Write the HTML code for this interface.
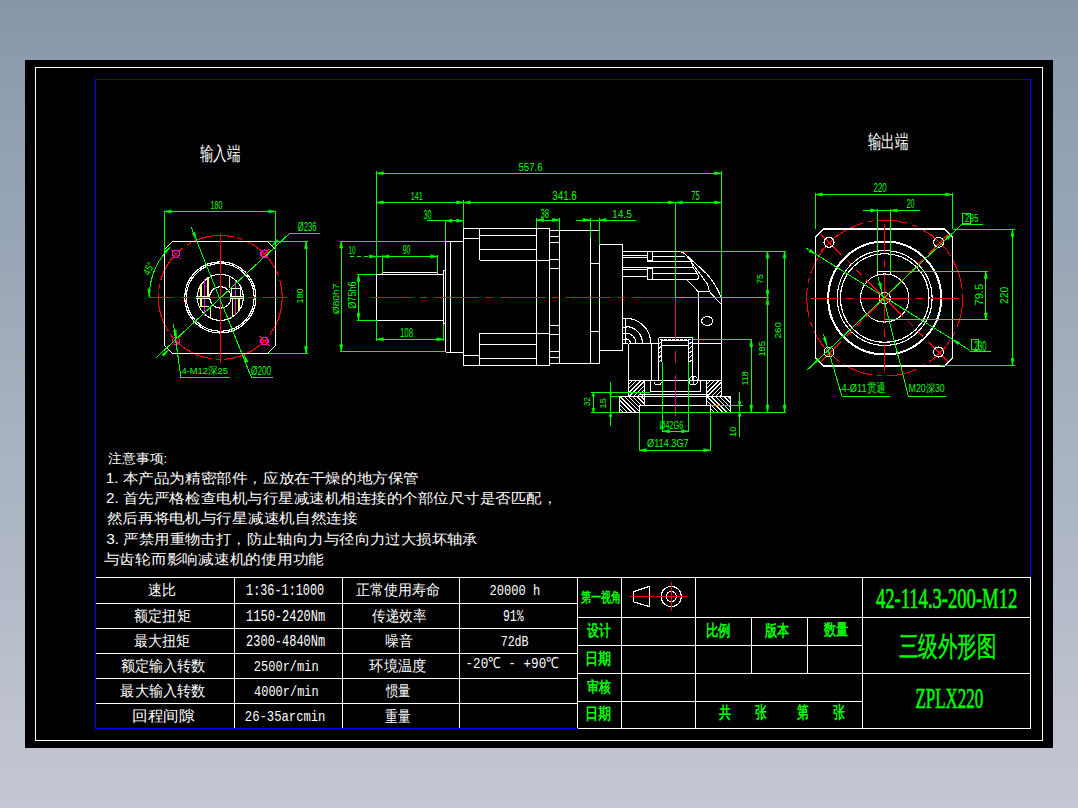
<!DOCTYPE html>
<html><head><meta charset="utf-8"><style>
html,body{margin:0;padding:0;width:1078px;height:808px;overflow:hidden;}
body{background:linear-gradient(to bottom,#8797ab 0%,#c4c8d2 100%);}
svg{position:absolute;left:0;top:0;}
</style></head><body>
<svg width="1078" height="808" viewBox="0 0 1078 808" shape-rendering="crispEdges">
<rect x="25" y="60" width="1028" height="688" fill="#000" stroke="none" stroke-width="1"/>
<rect x="35.5" y="67.5" width="1007" height="673" fill="none" stroke="#ffffff" stroke-width="1"/>
<rect x="95.5" y="79.5" width="935" height="649" fill="none" stroke="#0000ff" stroke-width="1"/>
<circle cx="220.3" cy="297.4" r="62" fill="none" stroke="#ff0000" stroke-width="1.1" stroke-dasharray="40 4 5 4"/>
<path d="M172.3,241.7 H267.6 L275.6,249.7 V345.4 L267.6,353.4 H172.3 L164.3,345.4 V249.7 Z" fill="none" stroke="#ffffff" stroke-width="1.1" />
<circle cx="220.3" cy="297.4" r="35.6" fill="none" stroke="#ffffff" stroke-width="1.2" />
<circle cx="220.3" cy="297.4" r="33.9" fill="none" stroke="#ffffff" stroke-width="1.1" />
<circle cx="220.3" cy="297.4" r="23" fill="none" stroke="#ffffff" stroke-width="1.1" />
<circle cx="220.3" cy="297.4" r="10.7" fill="none" stroke="#ffffff" stroke-width="1.1" />
<line x1="200.6" y1="283.5" x2="200.6" y2="296.0" stroke="#ffff80" stroke-width="1.8"  shape-rendering="crispEdges"/>
<line x1="200.6" y1="298.8" x2="200.6" y2="306.4" stroke="#ffff80" stroke-width="1.8"  shape-rendering="crispEdges"/>
<line x1="208.1" y1="277.0" x2="208.1" y2="296.0" stroke="#ffff80" stroke-width="2"  shape-rendering="crispEdges"/>
<line x1="210.5" y1="306.4" x2="210.5" y2="318.5" stroke="#ffff80" stroke-width="1.3"  shape-rendering="crispEdges"/>
<line x1="229.8" y1="277.0" x2="229.8" y2="288.3" stroke="#ffff80" stroke-width="1.3"  shape-rendering="crispEdges"/>
<line x1="232.4" y1="298.8" x2="232.4" y2="316.5" stroke="#ffff80" stroke-width="1.8"  shape-rendering="crispEdges"/>
<line x1="238.9" y1="298.8" x2="238.9" y2="310.0" stroke="#ffff80" stroke-width="1.8"  shape-rendering="crispEdges"/>
<line x1="204.5" y1="279.0" x2="204.5" y2="315.7" stroke="#ff00ff" stroke-width="1.3"  shape-rendering="crispEdges"/>
<line x1="235.5" y1="281.0" x2="235.5" y2="314.0" stroke="#ff00ff" stroke-width="1.3"  shape-rendering="crispEdges"/>
<line x1="196.4" y1="296.0" x2="208.9" y2="296.0" stroke="#ffffff" stroke-width="1"  shape-rendering="crispEdges"/>
<line x1="196.4" y1="298.8" x2="208.9" y2="298.8" stroke="#ffffff" stroke-width="1"  shape-rendering="crispEdges"/>
<line x1="230.6" y1="296.0" x2="243.5" y2="296.0" stroke="#ffffff" stroke-width="1"  shape-rendering="crispEdges"/>
<line x1="230.6" y1="298.8" x2="243.5" y2="298.8" stroke="#ffffff" stroke-width="1"  shape-rendering="crispEdges"/>
<rect x="231" y="288.3" width="9.00" height="7.70" fill="none" stroke="#ffffff" stroke-width="1" shape-rendering="crispEdges"/>
<line x1="198.8" y1="306.4" x2="208.5" y2="306.4" stroke="#ffff80" stroke-width="1.2"  shape-rendering="crispEdges"/>
<line x1="149.1" y1="297.4" x2="172.9" y2="297.4" stroke="#ff0000" stroke-width="1"  shape-rendering="crispEdges"/>
<line x1="180.8" y1="297.4" x2="188.8" y2="297.4" stroke="#ff0000" stroke-width="1"  shape-rendering="crispEdges"/>
<line x1="195.8" y1="297.4" x2="243.4" y2="297.4" stroke="#ff0000" stroke-width="1"  shape-rendering="crispEdges"/>
<line x1="247.8" y1="297.4" x2="256.6" y2="297.4" stroke="#ff0000" stroke-width="1"  shape-rendering="crispEdges"/>
<line x1="262.8" y1="297.4" x2="286.6" y2="297.4" stroke="#ff0000" stroke-width="1"  shape-rendering="crispEdges"/>
<line x1="220.3" y1="232.5" x2="220.3" y2="363.0" stroke="#ff0000" stroke-width="1"  shape-rendering="crispEdges"/>
<circle cx="176" cy="253.8" r="3.6" fill="none" stroke="#ff00ff" stroke-width="1.5" />
<line x1="181.0" y1="258.7" x2="171.0" y2="248.9" stroke="#ff0000" stroke-width="1" />
<line x1="179.5" y1="250.2" x2="172.5" y2="257.4" stroke="#ff0000" stroke-width="1" />
<circle cx="264.5" cy="253.8" r="3.6" fill="none" stroke="#ff00ff" stroke-width="1.5" />
<line x1="259.5" y1="258.7" x2="269.5" y2="248.9" stroke="#ff0000" stroke-width="1" />
<line x1="268.0" y1="257.4" x2="261.0" y2="250.2" stroke="#ff0000" stroke-width="1" />
<circle cx="176" cy="341" r="3.6" fill="none" stroke="#ff00ff" stroke-width="1.5" />
<line x1="181.0" y1="336.1" x2="171.0" y2="345.9" stroke="#ff0000" stroke-width="1" />
<line x1="172.5" y1="337.4" x2="179.5" y2="344.6" stroke="#ff0000" stroke-width="1" />
<circle cx="264.5" cy="341" r="3.6" fill="none" stroke="#ff00ff" stroke-width="1.5" />
<line x1="259.5" y1="336.1" x2="269.5" y2="345.9" stroke="#ff0000" stroke-width="1" />
<line x1="261.0" y1="344.6" x2="268.0" y2="337.4" stroke="#ff0000" stroke-width="1" />
<line x1="164.3" y1="211.4" x2="164.3" y2="251.0" stroke="#00ff00" stroke-width="1"  shape-rendering="crispEdges"/>
<line x1="275.6" y1="211.4" x2="275.6" y2="251.0" stroke="#00ff00" stroke-width="1"  shape-rendering="crispEdges"/>
<line x1="164.3" y1="211.4" x2="275.6" y2="211.4" stroke="#00ff00" stroke-width="1"  shape-rendering="crispEdges"/>
<path d="M164.3,211.4 L171.3,209.9 L171.3,212.9 Z" fill="#00ff00" stroke="#00ff00" stroke-width="0.6" shape-rendering="geometricPrecision"/>
<path d="M275.6,211.4 L268.6,209.9 L268.6,212.9 Z" fill="#00ff00" stroke="#00ff00" stroke-width="0.6" shape-rendering="geometricPrecision"/>
<text x="210.60" y="208.59" fill="#00ff00" font-size="11.41" textLength="11.85" lengthAdjust="spacingAndGlyphs" style="font-family:&quot;Liberation Sans&quot;,sans-serif;font-weight:normal">180</text>
<line x1="267.6" y1="241.7" x2="308.0" y2="241.7" stroke="#00ff00" stroke-width="1"  shape-rendering="crispEdges"/>
<line x1="267.6" y1="353.4" x2="308.0" y2="353.4" stroke="#00ff00" stroke-width="1"  shape-rendering="crispEdges"/>
<line x1="306.0" y1="241.7" x2="306.0" y2="353.4" stroke="#00ff00" stroke-width="1"  shape-rendering="crispEdges"/>
<path d="M306,241.7 L304.5,248.7 L307.5,248.7 Z" fill="#00ff00" stroke="#00ff00" stroke-width="0.6" shape-rendering="geometricPrecision"/>
<path d="M306,353.4 L304.5,346.4 L307.5,346.4 Z" fill="#00ff00" stroke="#00ff00" stroke-width="0.6" shape-rendering="geometricPrecision"/>
<text x="303.20" y="303.53" fill="#00ff00" font-size="9.86" textLength="15.06" lengthAdjust="spacingAndGlyphs" transform="rotate(-90 303.20 303.53)" style="font-family:&quot;Liberation Sans&quot;,sans-serif;font-weight:normal">180</text>
<line x1="156.0" y1="357.8" x2="290.0" y2="233.0" stroke="#00ff00" stroke-width="1" />
<line x1="290.0" y1="233.0" x2="320.0" y2="233.0" stroke="#00ff00" stroke-width="1"  shape-rendering="crispEdges"/>
<text x="297.77" y="231.34" fill="#00ff00" font-size="11.87" textLength="18.71" lengthAdjust="spacingAndGlyphs" style="font-family:&quot;Liberation Sans&quot;,sans-serif;font-weight:normal">Ø236</text>
<line x1="191.2" y1="227.3" x2="251.5" y2="377.6" stroke="#00ff00" stroke-width="1" />
<line x1="251.5" y1="377.6" x2="273.0" y2="377.6" stroke="#00ff00" stroke-width="1"  shape-rendering="crispEdges"/>
<text x="251.06" y="374.74" fill="#00ff00" font-size="12.13" textLength="19.94" lengthAdjust="spacingAndGlyphs" style="font-family:&quot;Liberation Sans&quot;,sans-serif;font-weight:normal">Ø200</text>
<line x1="173.4" y1="324.0" x2="181.0" y2="377.6" stroke="#00ff00" stroke-width="1" />
<line x1="181.0" y1="377.6" x2="229.7" y2="377.6" stroke="#00ff00" stroke-width="1"  shape-rendering="crispEdges"/>
<text x="181.51" y="374.23" fill="#00ff00" font-size="9.79" textLength="46.33" lengthAdjust="spacingAndGlyphs" style="font-family:&quot;Liberation Sans&quot;,sans-serif;font-weight:normal">4-M12深25</text>
<path d="M149.3,297.4 A71,71 0 0 1 170.1,247.2" fill="none" stroke="#00ff00" stroke-width="1" />
<text x="152" y="270" fill="#00ff00" font-size="10.5" text-anchor="middle" style="font-family:&quot;Liberation Sans&quot;,sans-serif;font-weight:normal" transform="rotate(-65 152 270)" textLength="13" lengthAdjust="spacingAndGlyphs">45°</text>
<path d="M149.1,296.7 L150.4,289.2 L147.8,289.2 Z" fill="#00ff00" stroke="#00ff00" stroke-width="0.6" shape-rendering="geometricPrecision"/>
<path d="M170.1,247.2 L163.9,251.6 L165.7,253.4 Z" fill="#00ff00" stroke="#00ff00" stroke-width="0.6" shape-rendering="geometricPrecision"/>
<path d="M196.5,240.1 L194.7,232.2 L192.3,233.2 Z" fill="#00ff00" stroke="#00ff00" stroke-width="0.6" shape-rendering="geometricPrecision"/>
<path d="M243.9,354.7 L245.7,362.6 L248.1,361.6 Z" fill="#00ff00" stroke="#00ff00" stroke-width="0.6" shape-rendering="geometricPrecision"/>
<path d="M271.9,245.8 L278.6,241.3 L276.9,239.4 Z" fill="#00ff00" stroke="#00ff00" stroke-width="0.6" shape-rendering="geometricPrecision"/>
<path d="M168.7,349.8 L162.0,354.3 L163.7,356.2 Z" fill="#00ff00" stroke="#00ff00" stroke-width="0.6" shape-rendering="geometricPrecision"/>
<path d="M176.5,338.0 L176.2,329.9 L173.6,330.4 Z" fill="#00ff00" stroke="#00ff00" stroke-width="0.6" shape-rendering="geometricPrecision"/>
<rect x="376.3" y="274.3" width="67.50" height="46.00" fill="none" stroke="#ffffff" stroke-width="1.1" shape-rendering="crispEdges"/>
<line x1="382.0" y1="272.5" x2="437.6" y2="272.5" stroke="#ffffff" stroke-width="1"  shape-rendering="crispEdges"/>
<line x1="382.0" y1="272.5" x2="382.0" y2="274.3" stroke="#ffffff" stroke-width="1"  shape-rendering="crispEdges"/>
<line x1="437.6" y1="272.5" x2="437.6" y2="274.3" stroke="#ffffff" stroke-width="1"  shape-rendering="crispEdges"/>
<rect x="443.8" y="270.2" width="1.80" height="53.30" fill="none" stroke="#ffffff" stroke-width="1" shape-rendering="crispEdges"/>
<line x1="445.6" y1="241.2" x2="445.6" y2="352.0" stroke="#ffffff" stroke-width="1"  shape-rendering="crispEdges"/>
<line x1="450.5" y1="241.2" x2="450.5" y2="352.0" stroke="#ffffff" stroke-width="1"  shape-rendering="crispEdges"/>
<line x1="445.6" y1="241.2" x2="463.3" y2="241.2" stroke="#ffffff" stroke-width="1"  shape-rendering="crispEdges"/>
<line x1="445.6" y1="352.0" x2="463.3" y2="352.0" stroke="#ffffff" stroke-width="1"  shape-rendering="crispEdges"/>
<rect x="463.3" y="228.3" width="86.30" height="137.30" fill="none" stroke="#ffffff" stroke-width="1.1" shape-rendering="crispEdges"/>
<line x1="479.5" y1="228.3" x2="479.5" y2="260.4" stroke="#ffffff" stroke-width="1"  shape-rendering="crispEdges"/>
<line x1="479.5" y1="333.2" x2="479.5" y2="365.6" stroke="#ffffff" stroke-width="1"  shape-rendering="crispEdges"/>
<line x1="463.3" y1="238.5" x2="479.5" y2="238.5" stroke="#ffffff" stroke-width="1"  shape-rendering="crispEdges"/>
<line x1="463.3" y1="355.0" x2="479.5" y2="355.0" stroke="#ffffff" stroke-width="1"  shape-rendering="crispEdges"/>
<line x1="479.5" y1="235.4" x2="536.6" y2="235.4" stroke="#ffffff" stroke-width="1"  shape-rendering="crispEdges"/>
<line x1="479.5" y1="249.3" x2="536.6" y2="249.3" stroke="#ffffff" stroke-width="1"  shape-rendering="crispEdges"/>
<line x1="479.5" y1="344.3" x2="536.6" y2="344.3" stroke="#ffffff" stroke-width="1"  shape-rendering="crispEdges"/>
<line x1="479.5" y1="358.2" x2="536.6" y2="358.2" stroke="#ffffff" stroke-width="1"  shape-rendering="crispEdges"/>
<line x1="479.5" y1="260.4" x2="549.6" y2="260.4" stroke="#ffffff" stroke-width="1"  shape-rendering="crispEdges"/>
<line x1="479.5" y1="333.2" x2="549.6" y2="333.2" stroke="#ffffff" stroke-width="1"  shape-rendering="crispEdges"/>
<line x1="536.6" y1="228.3" x2="536.6" y2="365.6" stroke="#ffffff" stroke-width="1"  shape-rendering="crispEdges"/>
<rect x="549.6" y="230.6" width="9.80" height="132.60" fill="none" stroke="#ffffff" stroke-width="1.1" shape-rendering="crispEdges"/>
<line x1="549.6" y1="236.3" x2="559.4" y2="236.3" stroke="#ffffff" stroke-width="1"  shape-rendering="crispEdges"/>
<line x1="549.6" y1="242.3" x2="559.4" y2="242.3" stroke="#ffffff" stroke-width="1"  shape-rendering="crispEdges"/>
<line x1="549.6" y1="259.5" x2="559.4" y2="259.5" stroke="#ffffff" stroke-width="1"  shape-rendering="crispEdges"/>
<line x1="549.6" y1="268.6" x2="559.4" y2="268.6" stroke="#ffffff" stroke-width="1"  shape-rendering="crispEdges"/>
<line x1="549.6" y1="325.4" x2="559.4" y2="325.4" stroke="#ffffff" stroke-width="1"  shape-rendering="crispEdges"/>
<line x1="549.6" y1="334.6" x2="559.4" y2="334.6" stroke="#ffffff" stroke-width="1"  shape-rendering="crispEdges"/>
<line x1="549.6" y1="351.3" x2="559.4" y2="351.3" stroke="#ffffff" stroke-width="1"  shape-rendering="crispEdges"/>
<line x1="549.6" y1="357.3" x2="559.4" y2="357.3" stroke="#ffffff" stroke-width="1"  shape-rendering="crispEdges"/>
<rect x="559.4" y="230.4" width="39.80" height="132.90" fill="none" stroke="#ffffff" stroke-width="1.1" shape-rendering="crispEdges"/>
<line x1="590.8" y1="230.4" x2="590.8" y2="363.3" stroke="#ffffff" stroke-width="1"  shape-rendering="crispEdges"/>
<line x1="590.8" y1="263.5" x2="599.2" y2="263.5" stroke="#ffffff" stroke-width="1"  shape-rendering="crispEdges"/>
<line x1="590.8" y1="331.4" x2="599.2" y2="331.4" stroke="#ffffff" stroke-width="1"  shape-rendering="crispEdges"/>
<rect x="599.2" y="244.5" width="23.40" height="105.60" fill="none" stroke="#ffffff" stroke-width="1.1" shape-rendering="crispEdges"/>
<line x1="622.6" y1="251.5" x2="680.7" y2="251.5" stroke="#ffffff" stroke-width="1"  shape-rendering="crispEdges"/>
<line x1="622.6" y1="255.4" x2="647.3" y2="255.4" stroke="#ffffff" stroke-width="1"  shape-rendering="crispEdges"/>
<line x1="652.8" y1="256.7" x2="685.0" y2="256.7" stroke="#ffffff" stroke-width="1"  shape-rendering="crispEdges"/>
<line x1="622.6" y1="257.3" x2="647.3" y2="257.3" stroke="#ffffff" stroke-width="1"  shape-rendering="crispEdges"/>
<line x1="647.3" y1="261.7" x2="691.3" y2="261.7" stroke="#ffffff" stroke-width="1"  shape-rendering="crispEdges"/>
<line x1="622.6" y1="267.6" x2="693.0" y2="267.6" stroke="#ffffff" stroke-width="1"  shape-rendering="crispEdges"/>
<line x1="622.6" y1="269.3" x2="647.3" y2="269.3" stroke="#ffffff" stroke-width="1"  shape-rendering="crispEdges"/>
<line x1="652.8" y1="273.4" x2="697.4" y2="273.4" stroke="#ffffff" stroke-width="1"  shape-rendering="crispEdges"/>
<line x1="622.6" y1="276.7" x2="647.3" y2="276.7" stroke="#ffffff" stroke-width="1"  shape-rendering="crispEdges"/>
<line x1="647.3" y1="279.5" x2="697.4" y2="279.5" stroke="#ffffff" stroke-width="1"  shape-rendering="crispEdges"/>
<rect x="647.3" y="251.7" width="5.50" height="8.90" fill="none" stroke="#ffffff" stroke-width="1" shape-rendering="crispEdges"/>
<rect x="647.3" y="268.4" width="5.50" height="10.60" fill="none" stroke="#ffffff" stroke-width="1" shape-rendering="crispEdges"/>
<path d="M680.7,251.5 L685,254 L706.3,273.4 Q716,284 720.8,296.8" fill="none" stroke="#ffffff" stroke-width="1.1" />
<path d="M686.2,255 L691.3,261.7 L693,267.6 L697.4,273.4 L699,276.7 L697.4,279.5" fill="none" stroke="#ffffff" stroke-width="1" />
<path d="M688,257.5 L707.4,284 L709.6,291.8 L699.6,291.8 L698.5,292.5" fill="none" stroke="#ffffff" stroke-width="1" />
<line x1="686.8" y1="280.0" x2="698.5" y2="291.8" stroke="#ffffff" stroke-width="1" />
<line x1="709.6" y1="291.8" x2="720.8" y2="304.0" stroke="#ffffff" stroke-width="1" />
<line x1="721.3" y1="296.8" x2="721.3" y2="396.2" stroke="#ffffff" stroke-width="1.1"  shape-rendering="crispEdges"/>
<line x1="698.2" y1="292.0" x2="698.2" y2="380.6" stroke="#ffffff" stroke-width="1.1"  shape-rendering="crispEdges"/>
<ellipse cx="707.2" cy="321" rx="5.6" ry="4.4" fill="none" stroke="#ffffff" stroke-width="1.1"/>
<path d="M625.9,318.4 A24.8,24.8 0 0 1 650.6999999999999,343.2" fill="none" stroke="#ffffff" stroke-width="1.1" />
<path d="M625.9,326.59999999999997 A16.6,16.6 0 0 1 642.5,343.2" fill="none" stroke="#ffffff" stroke-width="1.1" />
<path d="M625.9,333.2 A10,10 0 0 1 635.9,343.2" fill="none" stroke="#ffffff" stroke-width="1.1" />
<path d="M625.9,338.8 A4.4,4.4 0 0 1 630.3,343.2" fill="none" stroke="#ffffff" stroke-width="1.1" />
<line x1="625.4" y1="318.4" x2="625.4" y2="343.2" stroke="#ffffff" stroke-width="1"  shape-rendering="crispEdges"/>
<line x1="622.6" y1="318.4" x2="626.5" y2="318.4" stroke="#ffffff" stroke-width="1"  shape-rendering="crispEdges"/>
<line x1="622.6" y1="327.6" x2="626.5" y2="327.6" stroke="#ffffff" stroke-width="1"  shape-rendering="crispEdges"/>
<line x1="622.6" y1="333.3" x2="626.5" y2="333.3" stroke="#ffffff" stroke-width="1"  shape-rendering="crispEdges"/>
<line x1="622.6" y1="339.7" x2="626.5" y2="339.7" stroke="#ffffff" stroke-width="1"  shape-rendering="crispEdges"/>
<line x1="622.6" y1="343.5" x2="628.2" y2="343.5" stroke="#ffffff" stroke-width="1"  shape-rendering="crispEdges"/>
<line x1="628.5" y1="343.5" x2="658.5" y2="343.5" stroke="#ffffff" stroke-width="1"  shape-rendering="crispEdges"/>
<line x1="692.5" y1="343.5" x2="721.5" y2="343.5" stroke="#ffffff" stroke-width="1"  shape-rendering="crispEdges"/>
<line x1="628.5" y1="343.5" x2="628.5" y2="380.5" stroke="#ffffff" stroke-width="1"  shape-rendering="crispEdges"/>
<line x1="721.5" y1="343.5" x2="721.5" y2="380.5" stroke="#ffffff" stroke-width="1"  shape-rendering="crispEdges"/>
<line x1="628.5" y1="380.5" x2="721.5" y2="380.5" stroke="#ffffff" stroke-width="1"  shape-rendering="crispEdges"/>
<line x1="651.3" y1="343.4" x2="651.3" y2="380.6" stroke="#ffffff" stroke-width="1"  shape-rendering="crispEdges"/>
<line x1="658.5" y1="337.5" x2="658.5" y2="380.5" stroke="#ffffff" stroke-width="1"  shape-rendering="crispEdges"/>
<line x1="692.5" y1="337.5" x2="692.5" y2="380.5" stroke="#ffffff" stroke-width="1"  shape-rendering="crispEdges"/>
<line x1="658.5" y1="337.5" x2="692.5" y2="337.5" stroke="#ffffff" stroke-width="1"  shape-rendering="crispEdges"/>
<line x1="660.0" y1="339.5" x2="691.0" y2="339.5" stroke="#ffffff" stroke-width="1" stroke-dasharray="2.5 1.5"/>
<rect x="661.5" y="340.5" width="27.00" height="5.00" fill="none" stroke="#ffffff" stroke-width="1" shape-rendering="crispEdges"/>
<line x1="661.5" y1="345.5" x2="661.5" y2="362.0" stroke="#ffffff" stroke-width="1"  shape-rendering="crispEdges"/>
<line x1="688.5" y1="345.5" x2="688.5" y2="362.0" stroke="#ffffff" stroke-width="1"  shape-rendering="crispEdges"/>
<clipPath id="hw1"><rect x="658.5" y="340.5" width="3.0" height="21.5"/></clipPath>
<path d="M657.5,345.0 L662.5,341.0 M657.5,349.5 L662.5,345.5 M657.5,354.0 L662.5,350.0 M657.5,358.5 L662.5,354.5 M657.5,363.0 L662.5,359.0 M657.5,367.5 L662.5,363.5 M657.5,372.0 L662.5,368.0 M657.5,376.5 L662.5,372.5 " stroke="#fff" stroke-width="1" fill="none" clip-path="url(#hw1)"/>
<clipPath id="hw2"><rect x="688.5" y="340.5" width="4.0" height="21.5"/></clipPath>
<path d="M687.5,345.0 L693.5,341.0 M687.5,349.5 L693.5,345.5 M687.5,354.0 L693.5,350.0 M687.5,358.5 L693.5,354.5 M687.5,363.0 L693.5,359.0 M687.5,367.5 L693.5,363.5 M687.5,372.0 L693.5,368.0 M687.5,376.5 L693.5,372.5 " stroke="#fff" stroke-width="1" fill="none" clip-path="url(#hw2)"/>
<path d="M654.3,381.5 A3.5,3.5 0 0 0 661.3,381.5" fill="none" stroke="#ffffff" stroke-width="1" />
<circle cx="693.3" cy="380.7" r="4.3" fill="none" stroke="#ffffff" stroke-width="1" />
<line x1="689.0" y1="380.7" x2="697.6" y2="380.7" stroke="#ffffff" stroke-width="0.8"  shape-rendering="crispEdges"/>
<line x1="693.3" y1="376.4" x2="693.3" y2="385.0" stroke="#ffffff" stroke-width="0.8"  shape-rendering="crispEdges"/>
<polyline points="650.9,380.6 650.9,391.9 700.2,391.9 700.2,380.6" fill="none" stroke="#ffffff" stroke-width="1" />
<rect x="628.2" y="380.6" width="16.40" height="15.60" fill="none" stroke="#ffffff" stroke-width="1.1" shape-rendering="crispEdges"/>
<clipPath id="h628380"><rect x="628.2" y="380.6" width="16.399999999999977" height="15.599999999999966"/></clipPath>
<path d="M612.6,396.2 L628.2,380.6 M616.8,396.2 L632.4,380.6 M621.0,396.2 L636.6,380.6 M625.2,396.2 L640.8,380.6 M629.4,396.2 L645.0,380.6 M633.6,396.2 L649.2,380.6 M637.8,396.2 L653.4,380.6 M642.0,396.2 L657.6,380.6 M646.2,396.2 L661.8,380.6 M650.4,396.2 L666.0,380.6 M654.6,396.2 L670.2,380.6 M658.8,396.2 L674.4,380.6 " stroke="#fff" stroke-width="1" clip-path="url(#h628380)"/>
<rect x="706.2" y="380.6" width="15.10" height="15.60" fill="none" stroke="#ffffff" stroke-width="1.1" shape-rendering="crispEdges"/>
<clipPath id="h706380"><rect x="706.2" y="380.6" width="15.099999999999909" height="15.599999999999966"/></clipPath>
<path d="M690.6,396.2 L706.2,380.6 M694.8,396.2 L710.4,380.6 M699.0,396.2 L714.6,380.6 M703.2,396.2 L718.8,380.6 M707.4,396.2 L723.0,380.6 M711.6,396.2 L727.2,380.6 M715.8,396.2 L731.4,380.6 M720.0,396.2 L735.6,380.6 M724.2,396.2 L739.8,380.6 M728.4,396.2 L744.0,380.6 M732.6,396.2 L748.2,380.6 M736.8,396.2 L752.4,380.6 " stroke="#fff" stroke-width="1" clip-path="url(#h706380)"/>
<polygon points="619.3,396.2 644.6,396.2 644.6,405.8 639.4,405.8 639.4,412.5 619.3,412.5" fill="none" stroke="#fff" stroke-width="1.1"/>
<clipPath id="h619396"><polygon points="619.3,396.2 644.6,396.2 644.6,405.8 639.4,405.8 639.4,412.5 619.3,412.5"/></clipPath>
<path d="M603.0,396.2 L619.3,412.5 M607.2,396.2 L623.5,412.5 M611.4,396.2 L627.7,412.5 M615.6,396.2 L631.9,412.5 M619.8,396.2 L636.1,412.5 M624.0,396.2 L640.3,412.5 M628.2,396.2 L644.5,412.5 M632.4,396.2 L648.7,412.5 M636.6,396.2 L652.9,412.5 M640.8,396.2 L657.1,412.5 M645.0,396.2 L661.3,412.5 M649.2,396.2 L665.5,412.5 M653.4,396.2 L669.7,412.5 M657.6,396.2 L673.9,412.5 " stroke="#fff" stroke-width="1" clip-path="url(#h619396)"/>
<polygon points="706.2,396.2 730.7,396.2 730.7,412.5 710.7,412.5 710.7,405.8 706.2,405.8" fill="none" stroke="#fff" stroke-width="1.1"/>
<clipPath id="h706396"><polygon points="706.2,396.2 730.7,396.2 730.7,412.5 710.7,412.5 710.7,405.8 706.2,405.8"/></clipPath>
<path d="M689.9,396.2 L706.2,412.5 M694.1,396.2 L710.4,412.5 M698.3,396.2 L714.6,412.5 M702.5,396.2 L718.8,412.5 M706.7,396.2 L723.0,412.5 M710.9,396.2 L727.2,412.5 M715.1,396.2 L731.4,412.5 M719.3,396.2 L735.6,412.5 M723.5,396.2 L739.8,412.5 M727.7,396.2 L744.0,412.5 M731.9,396.2 L748.2,412.5 M736.1,396.2 L752.4,412.5 M740.3,396.2 L756.6,412.5 M744.5,396.2 L760.8,412.5 " stroke="#fff" stroke-width="1" clip-path="url(#h706396)"/>
<line x1="640.0" y1="394.0" x2="710.0" y2="394.0" stroke="#ffffff" stroke-width="1"  shape-rendering="crispEdges"/>
<line x1="644.6" y1="396.2" x2="706.2" y2="396.2" stroke="#ffffff" stroke-width="1"  shape-rendering="crispEdges"/>
<rect x="639.4" y="405.8" width="71.30" height="6.70" fill="none" stroke="#ffffff" stroke-width="1.1" shape-rendering="crispEdges"/>
<line x1="644.6" y1="412.5" x2="706.2" y2="412.5" stroke="#ffffff" stroke-width="1"  shape-rendering="crispEdges"/>
<line x1="371.0" y1="297.4" x2="675.4" y2="297.4" stroke="#ff0000" stroke-width="1.1" stroke-dasharray="44.6 7 7.4 7" stroke-dashoffset="3.1" shape-rendering="crispEdges"/>
<line x1="675.5" y1="297.4" x2="675.5" y2="339.0" stroke="#e8007c" stroke-width="1"  shape-rendering="crispEdges"/>
<line x1="675.5" y1="350.5" x2="675.5" y2="362.8" stroke="#e8007c" stroke-width="1"  shape-rendering="crispEdges"/>
<line x1="675.5" y1="374.6" x2="675.5" y2="415.5" stroke="#e8007c" stroke-width="1"  shape-rendering="crispEdges"/>
<line x1="376.3" y1="171.0" x2="376.3" y2="273.8" stroke="#00ff00" stroke-width="1"  shape-rendering="crispEdges"/>
<line x1="376.3" y1="320.3" x2="376.3" y2="340.6" stroke="#00ff00" stroke-width="1"  shape-rendering="crispEdges"/>
<line x1="376.3" y1="173.2" x2="721.6" y2="173.2" stroke="#00ff00" stroke-width="1"  shape-rendering="crispEdges"/>
<path d="M376.3,173.2 L383.3,171.7 L383.3,174.7 Z" fill="#00ff00" stroke="#00ff00" stroke-width="0.6" shape-rendering="geometricPrecision"/>
<path d="M721.6,173.2 L714.6,171.7 L714.6,174.7 Z" fill="#00ff00" stroke="#00ff00" stroke-width="0.6" shape-rendering="geometricPrecision"/>
<text x="518.51" y="170.79" fill="#00ff00" font-size="11.41" textLength="24.13" lengthAdjust="spacingAndGlyphs" style="font-family:&quot;Liberation Sans&quot;,sans-serif;font-weight:normal">557.6</text>
<line x1="721.6" y1="171.0" x2="721.6" y2="296.8" stroke="#00ff00" stroke-width="1"  shape-rendering="crispEdges"/>
<line x1="376.3" y1="202.5" x2="721.6" y2="202.5" stroke="#00ff00" stroke-width="1"  shape-rendering="crispEdges"/>
<path d="M376.3,202.5 L383.3,201.0 L383.3,204.0 Z" fill="#00ff00" stroke="#00ff00" stroke-width="0.6" shape-rendering="geometricPrecision"/>
<path d="M463.6,202.5 L456.6,201.0 L456.6,204.0 Z" fill="#00ff00" stroke="#00ff00" stroke-width="0.6" shape-rendering="geometricPrecision"/>
<path d="M463.6,202.5 L470.6,201.0 L470.6,204.0 Z" fill="#00ff00" stroke="#00ff00" stroke-width="0.6" shape-rendering="geometricPrecision"/>
<path d="M675.3,202.5 L668.3,201.0 L668.3,204.0 Z" fill="#00ff00" stroke="#00ff00" stroke-width="0.6" shape-rendering="geometricPrecision"/>
<path d="M675.3,202.5 L682.3,201.0 L682.3,204.0 Z" fill="#00ff00" stroke="#00ff00" stroke-width="0.6" shape-rendering="geometricPrecision"/>
<path d="M721.6,202.5 L714.6,201.0 L714.6,204.0 Z" fill="#00ff00" stroke="#00ff00" stroke-width="0.6" shape-rendering="geometricPrecision"/>
<line x1="463.6" y1="200.0" x2="463.6" y2="228.3" stroke="#00ff00" stroke-width="1"  shape-rendering="crispEdges"/>
<text x="410.69" y="200.10" fill="#00ff00" font-size="11.57" textLength="12.25" lengthAdjust="spacingAndGlyphs" style="font-family:&quot;Liberation Sans&quot;,sans-serif;font-weight:normal">141</text>
<text x="552.31" y="199.78" fill="#00ff00" font-size="12.11" textLength="24.45" lengthAdjust="spacingAndGlyphs" style="font-family:&quot;Liberation Sans&quot;,sans-serif;font-weight:normal">341.6</text>
<text x="691.33" y="199.78" fill="#00ff00" font-size="12.11" textLength="8.24" lengthAdjust="spacingAndGlyphs" style="font-family:&quot;Liberation Sans&quot;,sans-serif;font-weight:normal">75</text>
<line x1="675.3" y1="202.5" x2="675.3" y2="297.4" stroke="#00ff00" stroke-width="1"  shape-rendering="crispEdges"/>
<line x1="426.5" y1="220.8" x2="463.6" y2="220.8" stroke="#00ff00" stroke-width="1"  shape-rendering="crispEdges"/>
<line x1="445.0" y1="220.8" x2="445.0" y2="241.1" stroke="#00ff00" stroke-width="1"  shape-rendering="crispEdges"/>
<path d="M445,220.8 L452,219.3 L452,222.3 Z" fill="#00ff00" stroke="#00ff00" stroke-width="0.6" shape-rendering="geometricPrecision"/>
<path d="M463.6,220.8 L456.6,219.3 L456.6,222.3 Z" fill="#00ff00" stroke="#00ff00" stroke-width="0.6" shape-rendering="geometricPrecision"/>
<text x="423.58" y="218.68" fill="#00ff00" font-size="12.25" textLength="7.97" lengthAdjust="spacingAndGlyphs" style="font-family:&quot;Liberation Sans&quot;,sans-serif;font-weight:normal">30</text>
<line x1="536.6" y1="220.0" x2="559.5" y2="220.0" stroke="#00ff00" stroke-width="1"  shape-rendering="crispEdges"/>
<line x1="536.6" y1="218.0" x2="536.6" y2="228.3" stroke="#00ff00" stroke-width="1"  shape-rendering="crispEdges"/>
<line x1="559.5" y1="218.0" x2="559.5" y2="230.4" stroke="#00ff00" stroke-width="1"  shape-rendering="crispEdges"/>
<path d="M536.6,220 L543.6,218.5 L543.6,221.5 Z" fill="#00ff00" stroke="#00ff00" stroke-width="0.6" shape-rendering="geometricPrecision"/>
<path d="M559.5,220 L552.5,218.5 L552.5,221.5 Z" fill="#00ff00" stroke="#00ff00" stroke-width="0.6" shape-rendering="geometricPrecision"/>
<text x="540.46" y="217.78" fill="#00ff00" font-size="12.39" textLength="8.72" lengthAdjust="spacingAndGlyphs" style="font-family:&quot;Liberation Sans&quot;,sans-serif;font-weight:normal">38</text>
<line x1="575.8" y1="220.0" x2="635.6" y2="220.0" stroke="#00ff00" stroke-width="1"  shape-rendering="crispEdges"/>
<line x1="590.1" y1="218.0" x2="590.1" y2="237.6" stroke="#00ff00" stroke-width="1"  shape-rendering="crispEdges"/>
<line x1="599.2" y1="218.0" x2="599.2" y2="244.5" stroke="#00ff00" stroke-width="1"  shape-rendering="crispEdges"/>
<path d="M590.1,220 L583.1,218.5 L583.1,221.5 Z" fill="#00ff00" stroke="#00ff00" stroke-width="0.6" shape-rendering="geometricPrecision"/>
<path d="M599.2,220 L606.2,218.5 L606.2,221.5 Z" fill="#00ff00" stroke="#00ff00" stroke-width="0.6" shape-rendering="geometricPrecision"/>
<text x="612.09" y="217.78" fill="#00ff00" font-size="11.55" textLength="19.78" lengthAdjust="spacingAndGlyphs" style="font-family:&quot;Liberation Sans&quot;,sans-serif;font-weight:normal">14.5</text>
<line x1="340.0" y1="241.1" x2="445.0" y2="241.1" stroke="#00ff00" stroke-width="1"  shape-rendering="crispEdges"/>
<line x1="340.0" y1="351.7" x2="445.0" y2="351.7" stroke="#00ff00" stroke-width="1"  shape-rendering="crispEdges"/>
<line x1="341.2" y1="241.1" x2="341.2" y2="351.7" stroke="#00ff00" stroke-width="1"  shape-rendering="crispEdges"/>
<path d="M341.2,241.1 L339.7,248.1 L342.7,248.1 Z" fill="#00ff00" stroke="#00ff00" stroke-width="0.6" shape-rendering="geometricPrecision"/>
<path d="M341.2,351.7 L339.7,344.7 L342.7,344.7 Z" fill="#00ff00" stroke="#00ff00" stroke-width="0.6" shape-rendering="geometricPrecision"/>
<text x="338.83" y="314.31" fill="#00ff00" font-size="9.08" textLength="30.78" lengthAdjust="spacingAndGlyphs" transform="rotate(-90 338.83 314.31)" style="font-family:&quot;Liberation Sans&quot;,sans-serif;font-weight:normal">Ø80h7</text>
<line x1="357.0" y1="274.3" x2="376.3" y2="274.3" stroke="#00ff00" stroke-width="1"  shape-rendering="crispEdges"/>
<line x1="357.0" y1="320.3" x2="376.3" y2="320.3" stroke="#00ff00" stroke-width="1"  shape-rendering="crispEdges"/>
<line x1="358.5" y1="274.3" x2="358.5" y2="320.3" stroke="#00ff00" stroke-width="1"  shape-rendering="crispEdges"/>
<path d="M358.5,274.3 L357.0,281.3 L360.0,281.3 Z" fill="#00ff00" stroke="#00ff00" stroke-width="0.6" shape-rendering="geometricPrecision"/>
<path d="M358.5,320.3 L357.0,313.3 L360.0,313.3 Z" fill="#00ff00" stroke="#00ff00" stroke-width="0.6" shape-rendering="geometricPrecision"/>
<text x="356.49" y="308.77" fill="#00ff00" font-size="10.26" textLength="27.40" lengthAdjust="spacingAndGlyphs" transform="rotate(-90 356.49 308.77)" style="font-family:&quot;Liberation Sans&quot;,sans-serif;font-weight:normal">Ø75h6</text>
<line x1="349.8" y1="256.5" x2="376.3" y2="256.5" stroke="#00ff00" stroke-width="1" stroke-dasharray="4 3"/>
<line x1="376.3" y1="256.5" x2="437.6" y2="256.5" stroke="#00ff00" stroke-width="1"  shape-rendering="crispEdges"/>
<line x1="382.0" y1="254.5" x2="382.0" y2="272.5" stroke="#00ff00" stroke-width="1"  shape-rendering="crispEdges"/>
<line x1="437.6" y1="254.5" x2="437.6" y2="272.5" stroke="#00ff00" stroke-width="1"  shape-rendering="crispEdges"/>
<path d="M376.3,256.5 L369.3,255.0 L369.3,258.0 Z" fill="#00ff00" stroke="#00ff00" stroke-width="0.6" shape-rendering="geometricPrecision"/>
<path d="M382,256.5 L389,255.0 L389,258.0 Z" fill="#00ff00" stroke="#00ff00" stroke-width="0.6" shape-rendering="geometricPrecision"/>
<path d="M437.6,256.5 L430.6,255.0 L430.6,258.0 Z" fill="#00ff00" stroke="#00ff00" stroke-width="0.6" shape-rendering="geometricPrecision"/>
<text x="348.56" y="253.58" fill="#00ff00" font-size="11.83" textLength="6.96" lengthAdjust="spacingAndGlyphs" style="font-family:&quot;Liberation Sans&quot;,sans-serif;font-weight:normal">10</text>
<text x="402.72" y="253.58" fill="#00ff00" font-size="12.25" textLength="7.73" lengthAdjust="spacingAndGlyphs" style="font-family:&quot;Liberation Sans&quot;,sans-serif;font-weight:normal">90</text>
<line x1="376.3" y1="339.3" x2="443.8" y2="339.3" stroke="#00ff00" stroke-width="1"  shape-rendering="crispEdges"/>
<line x1="443.8" y1="323.5" x2="443.8" y2="341.0" stroke="#00ff00" stroke-width="1"  shape-rendering="crispEdges"/>
<path d="M376.3,339.3 L383.3,337.8 L383.3,340.8 Z" fill="#00ff00" stroke="#00ff00" stroke-width="0.6" shape-rendering="geometricPrecision"/>
<path d="M443.8,339.3 L436.8,337.8 L436.8,340.8 Z" fill="#00ff00" stroke="#00ff00" stroke-width="0.6" shape-rendering="geometricPrecision"/>
<text x="399.94" y="336.78" fill="#00ff00" font-size="12.25" textLength="13.24" lengthAdjust="spacingAndGlyphs" style="font-family:&quot;Liberation Sans&quot;,sans-serif;font-weight:normal">108</text>
<line x1="680.0" y1="251.1" x2="785.7" y2="251.1" stroke="#00ff00" stroke-width="1"  shape-rendering="crispEdges"/>
<line x1="675.3" y1="297.5" x2="768.6" y2="297.5" stroke="#00ff00" stroke-width="1"  shape-rendering="crispEdges"/>
<line x1="692.9" y1="339.6" x2="752.0" y2="339.6" stroke="#00ff00" stroke-width="1"  shape-rendering="crispEdges"/>
<line x1="640.0" y1="412.2" x2="786.0" y2="412.2" stroke="#00ff00" stroke-width="1"  shape-rendering="crispEdges"/>
<line x1="767.5" y1="251.1" x2="767.5" y2="412.2" stroke="#00ff00" stroke-width="1"  shape-rendering="crispEdges"/>
<path d="M767.5,251.1 L766.0,258.1 L769.0,258.1 Z" fill="#00ff00" stroke="#00ff00" stroke-width="0.6" shape-rendering="geometricPrecision"/>
<path d="M767.5,297.5 L766.0,290.5 L769.0,290.5 Z" fill="#00ff00" stroke="#00ff00" stroke-width="0.6" shape-rendering="geometricPrecision"/>
<path d="M767.5,297.5 L766.0,304.5 L769.0,304.5 Z" fill="#00ff00" stroke="#00ff00" stroke-width="0.6" shape-rendering="geometricPrecision"/>
<path d="M767.5,412.2 L766.0,405.2 L769.0,405.2 Z" fill="#00ff00" stroke="#00ff00" stroke-width="0.6" shape-rendering="geometricPrecision"/>
<line x1="784.6" y1="251.1" x2="784.6" y2="412.2" stroke="#00ff00" stroke-width="1"  shape-rendering="crispEdges"/>
<path d="M784.6,251.1 L783.1,258.1 L786.1,258.1 Z" fill="#00ff00" stroke="#00ff00" stroke-width="0.6" shape-rendering="geometricPrecision"/>
<path d="M784.6,412.2 L783.1,405.2 L786.1,405.2 Z" fill="#00ff00" stroke="#00ff00" stroke-width="0.6" shape-rendering="geometricPrecision"/>
<line x1="751.2" y1="339.6" x2="751.2" y2="412.2" stroke="#00ff00" stroke-width="1"  shape-rendering="crispEdges"/>
<path d="M751.2,339.6 L749.7,346.6 L752.7,346.6 Z" fill="#00ff00" stroke="#00ff00" stroke-width="0.6" shape-rendering="geometricPrecision"/>
<path d="M751.2,412.2 L749.7,405.2 L752.7,405.2 Z" fill="#00ff00" stroke="#00ff00" stroke-width="0.6" shape-rendering="geometricPrecision"/>
<text x="763.41" y="283.94" fill="#00ff00" font-size="9.44" textLength="9.76" lengthAdjust="spacingAndGlyphs" transform="rotate(-90 763.41 283.94)" style="font-family:&quot;Liberation Sans&quot;,sans-serif;font-weight:normal">75</text>
<text x="764.51" y="356.55" fill="#00ff00" font-size="9.44" textLength="15.49" lengthAdjust="spacingAndGlyphs" transform="rotate(-90 764.51 356.55)" style="font-family:&quot;Liberation Sans&quot;,sans-serif;font-weight:normal">185</text>
<text x="781.21" y="338.49" fill="#00ff00" font-size="9.44" textLength="16.34" lengthAdjust="spacingAndGlyphs" transform="rotate(-90 781.21 338.49)" style="font-family:&quot;Liberation Sans&quot;,sans-serif;font-weight:normal">260</text>
<text x="747.81" y="385.43" fill="#00ff00" font-size="9.44" textLength="14.25" lengthAdjust="spacingAndGlyphs" transform="rotate(-90 747.81 385.43)" style="font-family:&quot;Liberation Sans&quot;,sans-serif;font-weight:normal">118</text>
<line x1="591.2" y1="392.2" x2="650.4" y2="392.2" stroke="#00ff00" stroke-width="1"  shape-rendering="crispEdges"/>
<line x1="610.6" y1="396.1" x2="619.3" y2="396.1" stroke="#00ff00" stroke-width="1"  shape-rendering="crispEdges"/>
<line x1="591.2" y1="412.4" x2="619.3" y2="412.4" stroke="#00ff00" stroke-width="1"  shape-rendering="crispEdges"/>
<line x1="593.3" y1="392.2" x2="593.3" y2="412.4" stroke="#00ff00" stroke-width="1"  shape-rendering="crispEdges"/>
<path d="M593.3,392.2 L591.8,396.2 L594.8,396.2 Z" fill="#00ff00" stroke="#00ff00" stroke-width="0.6" shape-rendering="geometricPrecision"/>
<path d="M593.3,412.4 L591.8,408.4 L594.8,408.4 Z" fill="#00ff00" stroke="#00ff00" stroke-width="0.6" shape-rendering="geometricPrecision"/>
<line x1="610.6" y1="382.0" x2="610.6" y2="426.0" stroke="#00ff00" stroke-width="1"  shape-rendering="crispEdges"/>
<path d="M610.6,396.1 L609.1,392.1 L612.1,392.1 Z" fill="#00ff00" stroke="#00ff00" stroke-width="0.6" shape-rendering="geometricPrecision"/>
<path d="M610.6,412.4 L609.1,416.4 L612.1,416.4 Z" fill="#00ff00" stroke="#00ff00" stroke-width="0.6" shape-rendering="geometricPrecision"/>
<text x="589.90" y="405.93" fill="#00ff00" font-size="9.86" textLength="8.70" lengthAdjust="spacingAndGlyphs" transform="rotate(-90 589.90 405.93)" style="font-family:&quot;Liberation Sans&quot;,sans-serif;font-weight:normal">32</text>
<text x="606.41" y="408.44" fill="#00ff00" font-size="8.71" textLength="10.17" lengthAdjust="spacingAndGlyphs" transform="rotate(-90 606.41 408.44)" style="font-family:&quot;Liberation Sans&quot;,sans-serif;font-weight:normal">15</text>
<line x1="662.5" y1="362.0" x2="662.5" y2="432.0" stroke="#00ff00" stroke-width="1"  shape-rendering="crispEdges"/>
<line x1="688.5" y1="362.0" x2="688.5" y2="432.0" stroke="#00ff00" stroke-width="1"  shape-rendering="crispEdges"/>
<line x1="662.5" y1="431.2" x2="688.5" y2="431.2" stroke="#00ff00" stroke-width="1"  shape-rendering="crispEdges"/>
<path d="M662.5,431.2 L669.5,429.7 L669.5,432.7 Z" fill="#00ff00" stroke="#00ff00" stroke-width="0.6" shape-rendering="geometricPrecision"/>
<path d="M688.5,431.2 L681.5,429.7 L681.5,432.7 Z" fill="#00ff00" stroke="#00ff00" stroke-width="0.6" shape-rendering="geometricPrecision"/>
<text x="659.38" y="428.87" fill="#00ff00" font-size="10.93" textLength="23.89" lengthAdjust="spacingAndGlyphs" style="font-family:&quot;Liberation Sans&quot;,sans-serif;font-weight:normal">Ø42G6</text>
<line x1="639.4" y1="412.5" x2="639.4" y2="451.0" stroke="#00ff00" stroke-width="1"  shape-rendering="crispEdges"/>
<line x1="710.6" y1="412.5" x2="710.6" y2="451.0" stroke="#00ff00" stroke-width="1"  shape-rendering="crispEdges"/>
<line x1="639.4" y1="450.2" x2="710.6" y2="450.2" stroke="#00ff00" stroke-width="1"  shape-rendering="crispEdges"/>
<path d="M639.4,450.2 L646.4,448.7 L646.4,451.7 Z" fill="#00ff00" stroke="#00ff00" stroke-width="0.6" shape-rendering="geometricPrecision"/>
<path d="M710.6,450.2 L703.6,448.7 L703.6,451.7 Z" fill="#00ff00" stroke="#00ff00" stroke-width="0.6" shape-rendering="geometricPrecision"/>
<text x="647.03" y="447.18" fill="#00ff00" font-size="10.80" textLength="41.60" lengthAdjust="spacingAndGlyphs" style="font-family:&quot;Liberation Sans&quot;,sans-serif;font-weight:normal">Ø114.3G7</text>
<line x1="710.7" y1="405.7" x2="743.0" y2="405.7" stroke="#00ff00" stroke-width="1"  shape-rendering="crispEdges"/>
<line x1="739.6" y1="392.4" x2="739.6" y2="437.3" stroke="#00ff00" stroke-width="1"  shape-rendering="crispEdges"/>
<path d="M739.6,405.7 L738.1,401.7 L741.1,401.7 Z" fill="#00ff00" stroke="#00ff00" stroke-width="0.6" shape-rendering="geometricPrecision"/>
<path d="M739.6,412.2 L738.1,416.2 L741.1,416.2 Z" fill="#00ff00" stroke="#00ff00" stroke-width="0.6" shape-rendering="geometricPrecision"/>
<text x="735.92" y="436.95" fill="#00ff00" font-size="8.45" textLength="10.28" lengthAdjust="spacingAndGlyphs" transform="rotate(-90 735.92 436.95)" style="font-family:&quot;Liberation Sans&quot;,sans-serif;font-weight:normal">10</text>
<circle cx="884.7" cy="298" r="78" fill="none" stroke="#ff0000" stroke-width="1" stroke-dasharray="30 5 5 5"/>
<path d="M823.6,229 H944.6 L952.6,237 V358 L944.6,366 H823.6 L815.6,358 V237 Z" fill="none" stroke="#ffffff" stroke-width="1.1" />
<circle cx="884.7" cy="298" r="56.5" fill="none" stroke="#ffffff" stroke-width="2" />
<circle cx="884.7" cy="298" r="47.4" fill="none" stroke="#ffffff" stroke-width="1.1" />
<circle cx="884.7" cy="298" r="44.3" fill="none" stroke="#ffffff" stroke-width="1.1" />
<circle cx="884.7" cy="298" r="24.1" fill="none" stroke="#ffffff" stroke-width="1.1" />
<circle cx="884.7" cy="298" r="5.6" fill="none" stroke="#ffffff" stroke-width="1.1" />
<polyline points="877.5,274.6 877.5,271.3 890.2,271.3 890.2,274.6" fill="none" stroke="#ffffff" stroke-width="1" />
<line x1="884.7" y1="298.0" x2="909.2" y2="298.0" stroke="#ff0000" stroke-width="1"  shape-rendering="crispEdges"/>
<line x1="884.7" y1="298.0" x2="884.7" y2="322.5" stroke="#ff0000" stroke-width="1"  shape-rendering="crispEdges"/>
<line x1="915.7" y1="298.0" x2="923.2" y2="298.0" stroke="#ff0000" stroke-width="1"  shape-rendering="crispEdges"/>
<line x1="884.7" y1="329.0" x2="884.7" y2="336.5" stroke="#ff0000" stroke-width="1"  shape-rendering="crispEdges"/>
<line x1="930.7" y1="298.0" x2="958.7" y2="298.0" stroke="#ff0000" stroke-width="1"  shape-rendering="crispEdges"/>
<line x1="884.7" y1="344.0" x2="884.7" y2="372.0" stroke="#ff0000" stroke-width="1"  shape-rendering="crispEdges"/>
<line x1="884.7" y1="298.0" x2="860.2" y2="298.0" stroke="#ff0000" stroke-width="1"  shape-rendering="crispEdges"/>
<line x1="884.7" y1="298.0" x2="884.7" y2="273.5" stroke="#ff0000" stroke-width="1"  shape-rendering="crispEdges"/>
<line x1="853.7" y1="298.0" x2="846.2" y2="298.0" stroke="#ff0000" stroke-width="1"  shape-rendering="crispEdges"/>
<line x1="884.7" y1="267.0" x2="884.7" y2="259.5" stroke="#ff0000" stroke-width="1"  shape-rendering="crispEdges"/>
<line x1="838.7" y1="298.0" x2="810.7" y2="298.0" stroke="#ff0000" stroke-width="1"  shape-rendering="crispEdges"/>
<line x1="884.7" y1="252.0" x2="884.7" y2="224.0" stroke="#ff0000" stroke-width="1"  shape-rendering="crispEdges"/>
<line x1="884.7" y1="298.0" x2="903.1" y2="316.4" stroke="#ff0000" stroke-width="1" />
<line x1="908.0" y1="321.3" x2="913.0" y2="326.3" stroke="#ff0000" stroke-width="1" />
<line x1="917.9" y1="331.2" x2="922.9" y2="336.2" stroke="#ff0000" stroke-width="1" />
<line x1="928.5" y1="341.8" x2="948.3" y2="361.6" stroke="#ff0000" stroke-width="1" />
<line x1="884.7" y1="298.0" x2="903.1" y2="279.6" stroke="#ff0000" stroke-width="1" />
<line x1="908.0" y1="274.7" x2="913.0" y2="269.7" stroke="#ff0000" stroke-width="1" />
<line x1="917.9" y1="264.8" x2="922.9" y2="259.8" stroke="#ff0000" stroke-width="1" />
<line x1="928.5" y1="254.2" x2="948.3" y2="234.4" stroke="#ff0000" stroke-width="1" />
<line x1="884.7" y1="298.0" x2="866.3" y2="316.4" stroke="#ff0000" stroke-width="1" />
<line x1="861.4" y1="321.3" x2="856.4" y2="326.3" stroke="#ff0000" stroke-width="1" />
<line x1="851.5" y1="331.2" x2="846.5" y2="336.2" stroke="#ff0000" stroke-width="1" />
<line x1="840.9" y1="341.8" x2="821.1" y2="361.6" stroke="#ff0000" stroke-width="1" />
<line x1="884.7" y1="298.0" x2="866.3" y2="279.6" stroke="#ff0000" stroke-width="1" />
<line x1="861.4" y1="274.7" x2="856.4" y2="269.7" stroke="#ff0000" stroke-width="1" />
<line x1="851.5" y1="264.8" x2="846.5" y2="259.8" stroke="#ff0000" stroke-width="1" />
<line x1="840.9" y1="254.2" x2="821.1" y2="234.4" stroke="#ff0000" stroke-width="1" />
<line x1="838.0" y1="233.9" x2="821.0" y2="250.7" stroke="#ff0000" stroke-width="1" />
<line x1="947.8" y1="250.7" x2="930.6" y2="233.9" stroke="#ff0000" stroke-width="1" />
<line x1="821.0" y1="344.3" x2="838.0" y2="361.3" stroke="#ff0000" stroke-width="1" />
<line x1="930.7" y1="361.3" x2="947.7" y2="344.3" stroke="#ff0000" stroke-width="1" />
<circle cx="829" cy="242.3" r="5" fill="none" stroke="#ffffff" stroke-width="1.1" />
<circle cx="938.6" cy="242.3" r="5" fill="none" stroke="#ffffff" stroke-width="1.1" />
<circle cx="829" cy="352" r="5" fill="none" stroke="#ffffff" stroke-width="1.1" />
<circle cx="938.6" cy="352" r="5" fill="none" stroke="#ffffff" stroke-width="1.1" />
<line x1="815.6" y1="193.0" x2="815.6" y2="229.0" stroke="#00ff00" stroke-width="1"  shape-rendering="crispEdges"/>
<line x1="952.3" y1="193.0" x2="952.3" y2="229.0" stroke="#00ff00" stroke-width="1"  shape-rendering="crispEdges"/>
<line x1="815.6" y1="194.5" x2="952.3" y2="194.5" stroke="#00ff00" stroke-width="1"  shape-rendering="crispEdges"/>
<path d="M815.6,194.5 L822.6,193.0 L822.6,196.0 Z" fill="#00ff00" stroke="#00ff00" stroke-width="0.6" shape-rendering="geometricPrecision"/>
<path d="M952.3,194.5 L945.3,193.0 L945.3,196.0 Z" fill="#00ff00" stroke="#00ff00" stroke-width="0.6" shape-rendering="geometricPrecision"/>
<text x="873.50" y="191.88" fill="#00ff00" font-size="12.25" textLength="13.29" lengthAdjust="spacingAndGlyphs" style="font-family:&quot;Liberation Sans&quot;,sans-serif;font-weight:normal">220</text>
<line x1="863.2" y1="210.5" x2="919.6" y2="210.5" stroke="#00ff00" stroke-width="1"  shape-rendering="crispEdges"/>
<line x1="877.5" y1="209.0" x2="877.5" y2="271.3" stroke="#00ff00" stroke-width="1"  shape-rendering="crispEdges"/>
<line x1="890.2" y1="209.0" x2="890.2" y2="271.3" stroke="#00ff00" stroke-width="1"  shape-rendering="crispEdges"/>
<path d="M877.5,210.5 L870.5,209.0 L870.5,212.0 Z" fill="#00ff00" stroke="#00ff00" stroke-width="0.6" shape-rendering="geometricPrecision"/>
<path d="M890.2,210.5 L897.2,209.0 L897.2,212.0 Z" fill="#00ff00" stroke="#00ff00" stroke-width="0.6" shape-rendering="geometricPrecision"/>
<text x="906.43" y="207.98" fill="#00ff00" font-size="12.25" textLength="8.13" lengthAdjust="spacingAndGlyphs" style="font-family:&quot;Liberation Sans&quot;,sans-serif;font-weight:normal">20</text>
<line x1="952.6" y1="229.3" x2="1014.6" y2="229.3" stroke="#00ff00" stroke-width="1"  shape-rendering="crispEdges"/>
<line x1="940.0" y1="365.3" x2="1014.6" y2="365.3" stroke="#00ff00" stroke-width="1"  shape-rendering="crispEdges"/>
<line x1="1012.5" y1="229.3" x2="1012.5" y2="365.3" stroke="#00ff00" stroke-width="1"  shape-rendering="crispEdges"/>
<path d="M1012.5,229.3 L1011.0,236.3 L1014.0,236.3 Z" fill="#00ff00" stroke="#00ff00" stroke-width="0.6" shape-rendering="geometricPrecision"/>
<path d="M1012.5,365.3 L1011.0,358.3 L1014.0,358.3 Z" fill="#00ff00" stroke="#00ff00" stroke-width="0.6" shape-rendering="geometricPrecision"/>
<text x="1008.50" y="304.02" fill="#00ff00" font-size="10.42" textLength="17.19" lengthAdjust="spacingAndGlyphs" transform="rotate(-90 1008.50 304.02)" style="font-family:&quot;Liberation Sans&quot;,sans-serif;font-weight:normal">220</text>
<line x1="890.2" y1="271.5" x2="988.0" y2="271.5" stroke="#00ff00" stroke-width="1"  shape-rendering="crispEdges"/>
<line x1="884.7" y1="319.9" x2="988.0" y2="319.9" stroke="#00ff00" stroke-width="1"  shape-rendering="crispEdges"/>
<line x1="985.8" y1="271.5" x2="985.8" y2="319.9" stroke="#00ff00" stroke-width="1"  shape-rendering="crispEdges"/>
<path d="M985.8,271.5 L984.3,278.5 L987.3,278.5 Z" fill="#00ff00" stroke="#00ff00" stroke-width="0.6" shape-rendering="geometricPrecision"/>
<path d="M985.8,319.9 L984.3,312.9 L987.3,312.9 Z" fill="#00ff00" stroke="#00ff00" stroke-width="0.6" shape-rendering="geometricPrecision"/>
<text x="983.30" y="305.56" fill="#00ff00" font-size="10.42" textLength="21.76" lengthAdjust="spacingAndGlyphs" transform="rotate(-90 983.30 305.56)" style="font-family:&quot;Liberation Sans&quot;,sans-serif;font-weight:normal">79.5</text>
<line x1="806.7" y1="370.5" x2="962.0" y2="224.3" stroke="#00ff00" stroke-width="1" />
<line x1="962.0" y1="224.3" x2="982.8" y2="224.3" stroke="#00ff00" stroke-width="1"  shape-rendering="crispEdges"/>
<path d="M952.3,233.5 L946.2,237.2 L948.2,239.4 Z" fill="#00ff00" stroke="#00ff00" stroke-width="0.6" shape-rendering="geometricPrecision"/>
<rect x="962.8" y="213.8" width="7.20" height="9.40" fill="none" stroke="#00ff00" stroke-width="1" shape-rendering="crispEdges"/>
<text x="965.11" y="222.48" fill="#00ff00" font-size="11.83" textLength="13.18" lengthAdjust="spacingAndGlyphs" style="font-family:&quot;Liberation Sans&quot;,sans-serif;font-weight:normal">295</text>
<path d="M813.5,364.0 L819.6,360.3 L817.6,358.1 Z" fill="#00ff00" stroke="#00ff00" stroke-width="0.6" shape-rendering="geometricPrecision"/>
<line x1="805.6" y1="247.9" x2="970.0" y2="350.4" stroke="#00ff00" stroke-width="1" />
<line x1="970.0" y1="351.0" x2="990.8" y2="351.0" stroke="#00ff00" stroke-width="1"  shape-rendering="crispEdges"/>
<path d="M815.6,254.2 L810.5,249.2 L808.9,251.8 Z" fill="#00ff00" stroke="#00ff00" stroke-width="0.6" shape-rendering="geometricPrecision"/>
<path d="M952.6,339.7 L957.7,344.7 L959.3,342.1 Z" fill="#00ff00" stroke="#00ff00" stroke-width="0.6" shape-rendering="geometricPrecision"/>
<rect x="971.5" y="339.8" width="6.50" height="9.60" fill="none" stroke="#00ff00" stroke-width="1" shape-rendering="crispEdges"/>
<text x="974.03" y="351.25" fill="#00ff00" font-size="14.79" textLength="12.34" lengthAdjust="spacingAndGlyphs" style="font-family:&quot;Liberation Sans&quot;,sans-serif;font-weight:normal">230</text>
<line x1="878.0" y1="276.9" x2="908.4" y2="396.2" stroke="#00ff00" stroke-width="1" />
<line x1="908.4" y1="396.2" x2="946.0" y2="396.2" stroke="#00ff00" stroke-width="1"  shape-rendering="crispEdges"/>
<path d="M881.5,290.0 L881.2,282.8 L878.3,283.6 Z" fill="#00ff00" stroke="#00ff00" stroke-width="0.6" shape-rendering="geometricPrecision"/>
<text x="908.59" y="391.72" fill="#00ff00" font-size="10.64" textLength="36.13" lengthAdjust="spacingAndGlyphs" style="font-family:&quot;Liberation Sans&quot;,sans-serif;font-weight:normal">M20深30</text>
<line x1="823.4" y1="333.7" x2="842.0" y2="396.2" stroke="#00ff00" stroke-width="1" />
<line x1="842.0" y1="396.2" x2="890.4" y2="396.2" stroke="#00ff00" stroke-width="1"  shape-rendering="crispEdges"/>
<path d="M826.5,344.5 L825.9,337.4 L823.1,338.2 Z" fill="#00ff00" stroke="#00ff00" stroke-width="0.6" shape-rendering="geometricPrecision"/>
<text x="841.51" y="391.53" fill="#00ff00" font-size="11.72" textLength="44.06" lengthAdjust="spacingAndGlyphs" style="font-family:&quot;Liberation Sans&quot;,sans-serif;font-weight:normal">4-Ø11贯通</text>
<line x1="95.5" y1="577.5" x2="577.5" y2="577.5" stroke="#ffffff" stroke-width="1"  shape-rendering="crispEdges"/>
<line x1="95.5" y1="603.5" x2="577.5" y2="603.5" stroke="#ffffff" stroke-width="1"  shape-rendering="crispEdges"/>
<line x1="95.5" y1="628.5" x2="577.5" y2="628.5" stroke="#ffffff" stroke-width="1"  shape-rendering="crispEdges"/>
<line x1="95.5" y1="653.5" x2="577.5" y2="653.5" stroke="#ffffff" stroke-width="1"  shape-rendering="crispEdges"/>
<line x1="95.5" y1="678.5" x2="577.5" y2="678.5" stroke="#ffffff" stroke-width="1"  shape-rendering="crispEdges"/>
<line x1="95.5" y1="703.5" x2="577.5" y2="703.5" stroke="#ffffff" stroke-width="1"  shape-rendering="crispEdges"/>
<line x1="234.5" y1="577.5" x2="234.5" y2="728.5" stroke="#ffffff" stroke-width="1"  shape-rendering="crispEdges"/>
<line x1="342.5" y1="577.5" x2="342.5" y2="728.5" stroke="#ffffff" stroke-width="1"  shape-rendering="crispEdges"/>
<line x1="459.5" y1="577.5" x2="459.5" y2="728.5" stroke="#ffffff" stroke-width="1"  shape-rendering="crispEdges"/>
<line x1="577.5" y1="577.5" x2="577.5" y2="728.5" stroke="#ffffff" stroke-width="1"  shape-rendering="crispEdges"/>
<line x1="577.5" y1="577.5" x2="1030.5" y2="577.5" stroke="#ffffff" stroke-width="1"  shape-rendering="crispEdges"/>
<text x="148.38" y="595.01" fill="#ffffff" font-size="15.31" textLength="28.02" lengthAdjust="spacingAndGlyphs" style="font-family:&quot;Liberation Sans&quot;,sans-serif;font-weight:normal">速比</text>
<text x="246.07" y="594.94" fill="#ffffff" font-size="16.09" textLength="78.04" lengthAdjust="spacingAndGlyphs" style="font-family:&quot;Liberation Mono&quot;,sans-serif;font-weight:normal">1:36-1:1000</text>
<text x="355.86" y="594.62" fill="#ffffff" font-size="14.85" textLength="83.80" lengthAdjust="spacingAndGlyphs" style="font-family:&quot;Liberation Sans&quot;,sans-serif;font-weight:normal">正常使用寿命</text>
<text x="489.45" y="594.95" fill="#ffffff" font-size="15.00" textLength="50.82" lengthAdjust="spacingAndGlyphs" style="font-family:&quot;Liberation Mono&quot;,sans-serif;font-weight:normal">20000 h</text>
<text x="134.40" y="620.79" fill="#ffffff" font-size="14.70" textLength="56.16" lengthAdjust="spacingAndGlyphs" style="font-family:&quot;Liberation Sans&quot;,sans-serif;font-weight:normal">额定扭矩</text>
<text x="246.06" y="620.94" fill="#ffffff" font-size="16.09" textLength="79.14" lengthAdjust="spacingAndGlyphs" style="font-family:&quot;Liberation Mono&quot;,sans-serif;font-weight:normal">1150-2420Nm</text>
<text x="372.30" y="620.79" fill="#ffffff" font-size="14.70" textLength="53.94" lengthAdjust="spacingAndGlyphs" style="font-family:&quot;Liberation Sans&quot;,sans-serif;font-weight:normal">传递效率</text>
<text x="503.01" y="620.94" fill="#ffffff" font-size="16.09" textLength="20.57" lengthAdjust="spacingAndGlyphs" style="font-family:&quot;Liberation Mono&quot;,sans-serif;font-weight:normal">91%</text>
<text x="134.26" y="645.75" fill="#ffffff" font-size="15.00" textLength="56.30" lengthAdjust="spacingAndGlyphs" style="font-family:&quot;Liberation Sans&quot;,sans-serif;font-weight:normal">最大扭矩</text>
<text x="246.06" y="645.94" fill="#ffffff" font-size="16.09" textLength="79.14" lengthAdjust="spacingAndGlyphs" style="font-family:&quot;Liberation Mono&quot;,sans-serif;font-weight:normal">2300-4840Nm</text>
<text x="384.86" y="646.05" fill="#ffffff" font-size="15.00" textLength="28.11" lengthAdjust="spacingAndGlyphs" style="font-family:&quot;Liberation Sans&quot;,sans-serif;font-weight:normal">噪音</text>
<text x="500.69" y="645.95" fill="#ffffff" font-size="15.00" textLength="27.86" lengthAdjust="spacingAndGlyphs" style="font-family:&quot;Liberation Mono&quot;,sans-serif;font-weight:normal">72dB</text>
<text x="120.60" y="670.67" fill="#ffffff" font-size="14.55" textLength="84.88" lengthAdjust="spacingAndGlyphs" style="font-family:&quot;Liberation Sans&quot;,sans-serif;font-weight:normal">额定输入转数</text>
<text x="253.86" y="670.95" fill="#ffffff" font-size="15.00" textLength="64.80" lengthAdjust="spacingAndGlyphs" style="font-family:&quot;Liberation Mono&quot;,sans-serif;font-weight:normal">2500r/min</text>
<text x="369.40" y="671.05" fill="#ffffff" font-size="15.00" textLength="56.87" lengthAdjust="spacingAndGlyphs" style="font-family:&quot;Liberation Sans&quot;,sans-serif;font-weight:normal">环境温度</text>
<text x="465.49" y="667.85" fill="#ffffff" font-size="15.27" textLength="93.17" lengthAdjust="spacingAndGlyphs" style="font-family:&quot;Liberation Mono&quot;,sans-serif;font-weight:normal">-20℃ - +90℃</text>
<text x="120.46" y="695.65" fill="#ffffff" font-size="14.70" textLength="85.03" lengthAdjust="spacingAndGlyphs" style="font-family:&quot;Liberation Sans&quot;,sans-serif;font-weight:normal">最大输入转数</text>
<text x="254.10" y="695.95" fill="#ffffff" font-size="15.00" textLength="64.56" lengthAdjust="spacingAndGlyphs" style="font-family:&quot;Liberation Mono&quot;,sans-serif;font-weight:normal">4000r/min</text>
<text x="385.57" y="695.70" fill="#ffffff" font-size="15.31" textLength="24.92" lengthAdjust="spacingAndGlyphs" style="font-family:&quot;Liberation Sans&quot;,sans-serif;font-weight:normal">惯量</text>
<text x="131.96" y="720.86" fill="#ffffff" font-size="15.31" textLength="62.20" lengthAdjust="spacingAndGlyphs" style="font-family:&quot;Liberation Sans&quot;,sans-serif;font-weight:normal">回程间隙</text>
<text x="244.84" y="720.95" fill="#ffffff" font-size="15.00" textLength="80.63" lengthAdjust="spacingAndGlyphs" style="font-family:&quot;Liberation Mono&quot;,sans-serif;font-weight:normal">26-35arcmin</text>
<text x="385.07" y="721.87" fill="#ffffff" font-size="16.15" textLength="25.44" lengthAdjust="spacingAndGlyphs" style="font-family:&quot;Liberation Sans&quot;,sans-serif;font-weight:normal">重量</text>
<line x1="577.5" y1="617.5" x2="862.5" y2="617.5" stroke="#ffffff" stroke-width="1"  shape-rendering="crispEdges"/>
<line x1="577.5" y1="645.5" x2="862.5" y2="645.5" stroke="#ffffff" stroke-width="1"  shape-rendering="crispEdges"/>
<line x1="577.5" y1="673.5" x2="862.5" y2="673.5" stroke="#ffffff" stroke-width="1"  shape-rendering="crispEdges"/>
<line x1="577.5" y1="701.5" x2="862.5" y2="701.5" stroke="#ffffff" stroke-width="1"  shape-rendering="crispEdges"/>
<line x1="862.5" y1="617.5" x2="1030.5" y2="617.5" stroke="#ffffff" stroke-width="1"  shape-rendering="crispEdges"/>
<line x1="862.5" y1="673.5" x2="1030.5" y2="673.5" stroke="#ffffff" stroke-width="1"  shape-rendering="crispEdges"/>
<line x1="621.5" y1="577.5" x2="621.5" y2="728.5" stroke="#ffffff" stroke-width="1"  shape-rendering="crispEdges"/>
<line x1="695.5" y1="577.5" x2="695.5" y2="728.5" stroke="#ffffff" stroke-width="1"  shape-rendering="crispEdges"/>
<line x1="862.5" y1="577.5" x2="862.5" y2="728.5" stroke="#ffffff" stroke-width="1"  shape-rendering="crispEdges"/>
<line x1="751.5" y1="617.5" x2="751.5" y2="673.5" stroke="#ffffff" stroke-width="1"  shape-rendering="crispEdges"/>
<line x1="807.5" y1="617.5" x2="807.5" y2="673.5" stroke="#ffffff" stroke-width="1"  shape-rendering="crispEdges"/>
<line x1="1030.5" y1="577.5" x2="1030.5" y2="728.5" stroke="#ffffff" stroke-width="1"  shape-rendering="crispEdges"/>
<line x1="95.5" y1="728.5" x2="577.5" y2="728.5" stroke="#0000ff" stroke-width="1"  shape-rendering="crispEdges"/>
<line x1="577.5" y1="728.5" x2="1030.5" y2="728.5" stroke="#ffffff" stroke-width="1"  shape-rendering="crispEdges"/>
<text x="580.50" y="601.89" fill="#00ff00" font-size="14.06" textLength="40.41" lengthAdjust="spacingAndGlyphs" style="font-family:&quot;Liberation Sans&quot;,sans-serif;font-weight:bold">第一视角</text>
<text x="587.34" y="635.91" fill="#00ff00" font-size="16.36" textLength="24.08" lengthAdjust="spacingAndGlyphs" style="font-family:&quot;Liberation Sans&quot;,sans-serif;font-weight:bold">设计</text>
<text x="584.60" y="664.05" fill="#00ff00" font-size="16.36" textLength="26.19" lengthAdjust="spacingAndGlyphs" style="font-family:&quot;Liberation Sans&quot;,sans-serif;font-weight:bold">日期</text>
<text x="586.86" y="691.97" fill="#00ff00" font-size="15.19" textLength="23.76" lengthAdjust="spacingAndGlyphs" style="font-family:&quot;Liberation Sans&quot;,sans-serif;font-weight:bold">审核</text>
<text x="584.60" y="719.16" fill="#00ff00" font-size="16.26" textLength="26.19" lengthAdjust="spacingAndGlyphs" style="font-family:&quot;Liberation Sans&quot;,sans-serif;font-weight:bold">日期</text>
<text x="705.55" y="635.61" fill="#00ff00" font-size="16.20" textLength="24.89" lengthAdjust="spacingAndGlyphs" style="font-family:&quot;Liberation Sans&quot;,sans-serif;font-weight:bold">比例</text>
<text x="765.07" y="635.91" fill="#00ff00" font-size="16.36" textLength="24.33" lengthAdjust="spacingAndGlyphs" style="font-family:&quot;Liberation Sans&quot;,sans-serif;font-weight:bold">版本</text>
<text x="824.14" y="635.42" fill="#00ff00" font-size="16.36" textLength="24.20" lengthAdjust="spacingAndGlyphs" style="font-family:&quot;Liberation Sans&quot;,sans-serif;font-weight:bold">数量</text>
<text x="719.12" y="717.84" fill="#00ff00" font-size="16.47" textLength="12.12" lengthAdjust="spacingAndGlyphs" style="font-family:&quot;Liberation Sans&quot;,sans-serif;font-weight:bold">共</text>
<text x="754.58" y="718.11" fill="#00ff00" font-size="16.80" textLength="11.80" lengthAdjust="spacingAndGlyphs" style="font-family:&quot;Liberation Sans&quot;,sans-serif;font-weight:bold">张</text>
<text x="797.12" y="718.25" fill="#00ff00" font-size="16.97" textLength="11.62" lengthAdjust="spacingAndGlyphs" style="font-family:&quot;Liberation Sans&quot;,sans-serif;font-weight:bold">第</text>
<text x="832.58" y="718.11" fill="#00ff00" font-size="16.80" textLength="11.90" lengthAdjust="spacingAndGlyphs" style="font-family:&quot;Liberation Sans&quot;,sans-serif;font-weight:bold">张</text>
<text x="875.91" y="607.83" fill="#00ff00" stroke="#00ff00" stroke-width="0.6" font-size="28.53" textLength="141.32" lengthAdjust="spacingAndGlyphs" style="font-family:&quot;Liberation Serif&quot;,sans-serif;font-weight:normal">42-114.3-200-M12</text>
<text x="898.51" y="655.55" fill="#00ff00" stroke="#00ff00" stroke-width="0.4" font-size="27.84" textLength="97.74" lengthAdjust="spacingAndGlyphs" style="font-family:&quot;Liberation Sans&quot;,sans-serif;font-weight:normal">三级外形图</text>
<text x="915.52" y="708.30" fill="#00ff00" stroke="#00ff00" stroke-width="0.6" font-size="29.85" textLength="67.58" lengthAdjust="spacingAndGlyphs" style="font-family:&quot;Liberation Serif&quot;,sans-serif;font-weight:normal">ZPLX220</text>
<path d="M633.6,591.7 L649.8,586.3 L649.8,606.7 L633.6,601.9 Z" fill="none" stroke="#ffffff" stroke-width="1.1" />
<line x1="630.2" y1="596.5" x2="654.4" y2="596.5" stroke="#ff0000" stroke-width="1.1"  shape-rendering="crispEdges"/>
<circle cx="671.3" cy="596.5" r="10.1" fill="none" stroke="#ffffff" stroke-width="1.1" />
<circle cx="671.3" cy="596.5" r="5" fill="none" stroke="#ffffff" stroke-width="1.1" />
<line x1="655.7" y1="596.5" x2="686.6" y2="596.5" stroke="#ff0000" stroke-width="1.1"  shape-rendering="crispEdges"/>
<line x1="671.3" y1="581.7" x2="671.3" y2="611.3" stroke="#ff0000" stroke-width="1.1"  shape-rendering="crispEdges"/>
<text x="107.86" y="462.51" fill="#ffffff" font-size="12.60" textLength="59.36" lengthAdjust="spacingAndGlyphs" style="font-family:&quot;Liberation Sans&quot;,sans-serif;font-weight:normal">注意事项:</text>
<text x="105.71" y="482.80" fill="#ffffff" font-size="13.73" textLength="313.37" lengthAdjust="spacingAndGlyphs" style="font-family:&quot;Liberation Sans&quot;,sans-serif;font-weight:normal">1. 本产品为精密部件，应放在干燥的地方保管</text>
<text x="106.02" y="503.10" fill="#ffffff" font-size="13.76" textLength="451.34" lengthAdjust="spacingAndGlyphs" style="font-family:&quot;Liberation Sans&quot;,sans-serif;font-weight:normal">2. 首先严格检查电机与行星减速机相连接的个部位尺寸是否匹配，</text>
<text x="106.64" y="523.16" fill="#ffffff" font-size="13.76" textLength="251.03" lengthAdjust="spacingAndGlyphs" style="font-family:&quot;Liberation Sans&quot;,sans-serif;font-weight:normal">然后再将电机与行星减速机自然连接</text>
<text x="106.34" y="543.91" fill="#ffffff" font-size="13.94" textLength="371.52" lengthAdjust="spacingAndGlyphs" style="font-family:&quot;Liberation Sans&quot;,sans-serif;font-weight:normal">3. 严禁用重物击打，防止轴向力与径向力过大损坏轴承</text>
<text x="103.54" y="563.77" fill="#ffffff" font-size="13.94" textLength="220.47" lengthAdjust="spacingAndGlyphs" style="font-family:&quot;Liberation Sans&quot;,sans-serif;font-weight:normal">与齿轮而影响减速机的使用功能</text>
<text x="199.90" y="159.78" fill="#ffffff" font-size="18.90" textLength="40.74" lengthAdjust="spacingAndGlyphs" style="font-family:&quot;Liberation Sans&quot;,sans-serif;font-weight:normal">输入端</text>
<text x="867.80" y="148.20" fill="#ffffff" font-size="19.28" textLength="40.84" lengthAdjust="spacingAndGlyphs" style="font-family:&quot;Liberation Sans&quot;,sans-serif;font-weight:normal">输出端</text>
</svg></body></html>
